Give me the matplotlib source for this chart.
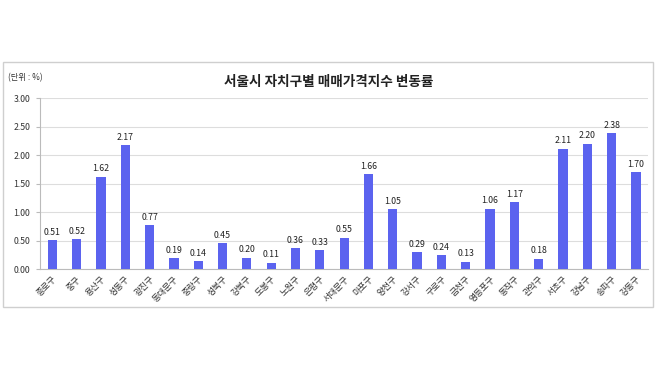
import matplotlib.pyplot as plt
from matplotlib.patches import Rectangle

plt.rcParams['font.family'] = ['Noto Sans CJK KR', 'DejaVu Sans']

districts = ['종로구', '중구', '용산구', '성동구', '광진구', '동대문구', '중랑구', '성북구',
             '강북구', '도봉구', '노원구', '은평구', '서대문구', '마포구', '양천구', '강서구',
             '구로구', '금천구', '영등포구', '동작구', '관악구', '서초구', '강남구', '송파구', '강동구']
changes = [0.51, 0.52, 1.62, 2.17, 0.77, 0.19, 0.14, 0.45, 0.20, 0.11, 0.36, 0.33, 0.55,
           1.66, 1.05, 0.29, 0.24, 0.13, 1.06, 1.17, 0.18, 2.11, 2.20, 2.38, 1.70]
yticks = [0.0, 0.5, 1.0, 1.5, 2.0, 2.5, 3.0]

fig = plt.figure(figsize=(6.58, 3.69), dpi=100)
fig.patches.append(Rectangle((0.005, 0.168), 0.988, 0.664, transform=fig.transFigure,
                             fill=False, edgecolor='#cfcfcf', linewidth=1))

ax = fig.add_axes([0.061, 0.271, 0.924, 0.463])
x = range(len(districts))
ax.bar(x, changes, width=0.38, color='#5b63ef', zorder=3)
for xi, v in zip(x, changes):
    ax.text(xi, v + 0.06, f'{v:.2f}', ha='center', va='bottom', fontsize=6.3, color='#222222')

ax.set_xlim(-0.5, len(districts) - 0.5)
ax.set_ylim(0, 3.0)
ax.set_yticks(yticks)
ax.set_yticklabels([f'{t:.2f}' for t in yticks], fontsize=6.3, color='#333333')
ax.set_xticks(list(x))
ax.set_xticklabels(districts, rotation=45, ha='right', rotation_mode='anchor', fontsize=6.3, color='#333333')
ax.tick_params(axis='x', length=0, pad=4)
ax.tick_params(axis='y', length=3, color='#bbbbbb', pad=4)
ax.grid(axis='y', color='#dddddd', linewidth=0.8, zorder=0)
for s in ['top', 'right']:
    ax.spines[s].set_visible(False)
ax.spines['left'].set_color('#bbbbbb')
ax.spines['bottom'].set_color('#bbbbbb')

fig.text(0.5, 0.777, '서울시 자치구별 매매가격지수 변동률', ha='center', va='center',
         fontsize=9.8, fontweight='bold', color='#222222')
fig.text(0.012, 0.79, '(단위 : %)', ha='left', va='center', fontsize=6, color='#333333')

fig.savefig('out.png', dpi=100)
